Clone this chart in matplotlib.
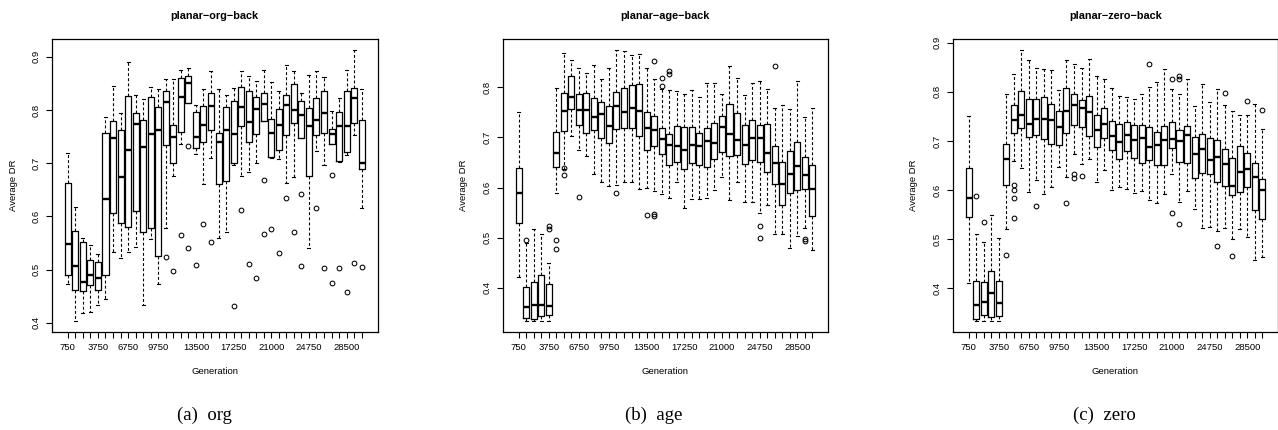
import numpy as np
import matplotlib.pyplot as plt

plt.rcParams['font.family'] = ['Liberation Sans', 'DejaVu Sans']

# generations (one box per 750 generations) and the labelled ones
gens = list(range(750, 30001, 750))
shown = [750, 3750, 6750, 9750, 13500, 17250, 21000, 24750, 28500]

# planar-org-back
org_lo = [0.473, 0.404, 0.419, 0.420, 0.434, 0.444, 0.5325, 0.521, 0.5325, 0.543,
          0.434, 0.5575, 0.473, 0.579, 0.676, 0.736, 0.8125, 0.717, 0.661, 0.709,
          0.559, 0.570, 0.696, 0.675, 0.6825, 0.700, 0.779, 0.710, 0.7075, 0.662,
          0.674, 0.747, 0.541, 0.723, 0.6975, 0.736, 0.703, 0.716, 0.7525, 0.616]
org_q1 = [0.490, 0.4625, 0.460, 0.471, 0.4625, 0.489, 0.606, 0.5875, 0.581, 0.611,
          0.571, 0.579, 0.525, 0.734, 0.700, 0.759, 0.8125, 0.728, 0.740, 0.7625,
          0.660, 0.667, 0.700, 0.770, 0.740, 0.754, 0.779, 0.7125, 0.724, 0.7525,
          0.775, 0.747, 0.676, 0.7525, 0.756, 0.736, 0.705, 0.721, 0.775, 0.689]
org_med = [0.548, 0.5075, 0.4775, 0.490, 0.484, 0.632, 0.747, 0.674, 0.724, 0.773,
           0.730, 0.754, 0.762, 0.815, 0.750, 0.825, 0.851, 0.749, 0.771, 0.8075,
           0.740, 0.7625, 0.754, 0.806, 0.778, 0.8025, 0.811, 0.7575, 0.7725, 0.810,
           0.800, 0.791, 0.769, 0.782, 0.794, 0.7555, 0.770, 0.770, 0.8225, 0.700]
org_q3 = [0.662, 0.573, 0.551, 0.518, 0.514, 0.7575, 0.779, 0.762, 0.826, 0.794,
          0.781, 0.825, 0.806, 0.836, 0.771, 0.860, 0.864, 0.796, 0.8075, 0.831,
          0.7575, 0.806, 0.816, 0.844, 0.835, 0.824, 0.831, 0.7825, 0.8025, 0.829,
          0.849, 0.816, 0.803, 0.823, 0.835, 0.765, 0.796, 0.835, 0.841, 0.781]
org_hi = [0.720, 0.617, 0.559, 0.546, 0.529, 0.7875, 0.845, 0.795, 0.891, 0.8275,
          0.820, 0.844, 0.839, 0.859, 0.8575, 0.875, 0.879, 0.809, 0.839, 0.8725,
          0.839, 0.829, 0.841, 0.8725, 0.864, 0.855, 0.875, 0.8525, 0.835, 0.885,
          0.874, 0.831, 0.865, 0.874, 0.8625, 0.799, 0.8225, 0.875, 0.9125, 0.840]
org_out_box = [14, 15, 16, 17, 17, 18, 19, 20, 23, 24, 25, 26, 27, 27, 28, 29, 30,
               31, 32, 32, 34, 35, 36, 36, 37, 38, 39, 40]
org_out_val = [0.524, 0.497, 0.565, 0.7325, 0.541, 0.509, 0.586, 0.551, 0.431, 0.6125,
               0.511, 0.485, 0.668, 0.566, 0.577, 0.532, 0.634, 0.571, 0.643, 0.5075,
               0.616, 0.503, 0.6775, 0.475, 0.5025, 0.458, 0.5125, 0.5055]

# planar-age-back
age_lo = [0.422, 0.3347, 0.3347, 0.3347, 0.3347, 0.590, 0.6367, 0.7033, 0.6753, 0.6633,
          0.628, 0.6113, 0.6033, 0.6053, 0.6113, 0.6113, 0.598, 0.600, 0.5933, 0.5867,
          0.5787, 0.6113, 0.5587, 0.5767, 0.5767, 0.5787, 0.5947, 0.622, 0.5753, 0.6113,
          0.5713, 0.572, 0.550, 0.5647, 0.508, 0.508, 0.4787, 0.5033, 0.520, 0.4747]
age_q1 = [0.530, 0.340, 0.3387, 0.3433, 0.346, 0.642, 0.7133, 0.7567, 0.7247, 0.708,
          0.7147, 0.6987, 0.6887, 0.7167, 0.7193, 0.718, 0.702, 0.6747, 0.6833, 0.6667,
          0.6453, 0.6513, 0.638, 0.6487, 0.6447, 0.6407, 0.6567, 0.6713, 0.6633, 0.6647,
          0.6467, 0.6547, 0.650, 0.632, 0.608, 0.5647, 0.5887, 0.5947, 0.598, 0.5433]
age_med = [0.5887, 0.3613, 0.3667, 0.3653, 0.3647, 0.6687, 0.7527, 0.7813, 0.7553, 0.7547,
           0.7413, 0.7467, 0.7233, 0.7633, 0.750, 0.758, 0.7533, 0.7193, 0.7147, 0.6967,
           0.6853, 0.6833, 0.6753, 0.6853, 0.682, 0.692, 0.688, 0.720, 0.7067, 0.6947,
           0.6853, 0.6987, 0.6987, 0.6693, 0.6493, 0.6067, 0.6267, 0.6433, 0.626, 0.5967]
age_q3 = [0.640, 0.4013, 0.412, 0.4267, 0.408, 0.7113, 0.788, 0.822, 0.786, 0.7887,
          0.778, 0.7713, 0.762, 0.790, 0.7987, 0.8047, 0.806, 0.750, 0.7433, 0.718,
          0.706, 0.722, 0.7213, 0.720, 0.7087, 0.7187, 0.728, 0.742, 0.766, 0.748,
          0.7253, 0.7353, 0.7253, 0.726, 0.6827, 0.650, 0.6733, 0.690, 0.6613, 0.6447]
age_hi = [0.750, 0.490, 0.518, 0.508, 0.450, 0.798, 0.8687, 0.8547, 0.838, 0.828,
          0.8453, 0.8167, 0.838, 0.874, 0.8727, 0.8633, 0.866, 0.838, 0.816, 0.7967,
          0.7953, 0.7927, 0.7867, 0.7947, 0.780, 0.8093, 0.8087, 0.7867, 0.842, 0.8193,
          0.7853, 0.808, 0.812, 0.7967, 0.7587, 0.7653, 0.7567, 0.8133, 0.7413, 0.7587]
age_out_box = [2, 5, 5, 6, 6, 7, 7, 9, 14, 18, 19, 19, 19, 20, 20, 21, 21, 33, 33,
               35, 39, 39]
age_out_val = [0.495, 0.5233, 0.518, 0.4947, 0.4767, 0.640, 0.6247, 0.5813, 0.5887,
               0.546, 0.8533, 0.548, 0.5427, 0.818, 0.802, 0.832, 0.826, 0.5233,
               0.4987, 0.8427, 0.498, 0.494]

# planar-zero-back
zero_lo = [0.4109, 0.334, 0.334, 0.334, 0.334, 0.5197, 0.6592, 0.6456, 0.5959, 0.6204,
           0.5912, 0.6061, 0.6469, 0.6265, 0.6728, 0.6524, 0.6626, 0.6163, 0.6408, 0.600,
           0.6068, 0.6014, 0.5946, 0.598, 0.5789, 0.5741, 0.5925, 0.6333, 0.5755, 0.598,
           0.5605, 0.5231, 0.5252, 0.5163, 0.5224, 0.5007, 0.5197, 0.5041, 0.4585, 0.4639]
zero_q1 = [0.5449, 0.3381, 0.3463, 0.3408, 0.3442, 0.6095, 0.717, 0.7259, 0.7088, 0.7122,
           0.7034, 0.6932, 0.6918, 0.7156, 0.732, 0.7293, 0.7102, 0.6878, 0.7061, 0.6816,
           0.6626, 0.6789, 0.6653, 0.6551, 0.6605, 0.6503, 0.651, 0.6857, 0.6571, 0.6551,
           0.6245, 0.634, 0.632, 0.6163, 0.6082, 0.5905, 0.5959, 0.6061, 0.5592, 0.5415]
zero_med = [0.5837, 0.3667, 0.3728, 0.3898, 0.3701, 0.6639, 0.7429, 0.7537, 0.7354, 0.7456,
            0.7456, 0.7429, 0.7286, 0.7605, 0.7728, 0.7673, 0.7592, 0.7224, 0.734, 0.7109,
            0.698, 0.7116, 0.7014, 0.7061, 0.6871, 0.6925, 0.7014, 0.7034, 0.7007, 0.7116,
            0.6735, 0.6844, 0.6612, 0.668, 0.6537, 0.6082, 0.6374, 0.6422, 0.6259, 0.5993]
zero_q3 = [0.6456, 0.4156, 0.4129, 0.4361, 0.4156, 0.6946, 0.7741, 0.802, 0.7864, 0.785,
           0.7891, 0.7748, 0.7619, 0.8088, 0.7952, 0.783, 0.7918, 0.7524, 0.7667, 0.7401,
           0.7347, 0.7388, 0.7327, 0.7333, 0.7286, 0.719, 0.7306, 0.7388, 0.7218, 0.7306,
           0.7088, 0.7136, 0.7061, 0.7014, 0.683, 0.6653, 0.6898, 0.6748, 0.6558, 0.6218]
zero_hi = [0.751, 0.5109, 0.4939, 0.5497, 0.5014, 0.7966, 0.836, 0.885, 0.8653, 0.8476,
           0.8456, 0.8442, 0.8041, 0.8646, 0.8558, 0.8483, 0.8667, 0.8313, 0.8259, 0.8078,
           0.7918, 0.7905, 0.785, 0.7966, 0.8102, 0.8197, 0.8456, 0.8054, 0.7952, 0.8259,
           0.7714, 0.817, 0.7803, 0.8054, 0.7741, 0.7605, 0.7531, 0.7531, 0.7748, 0.7252]
zero_out_box = [2, 3, 6, 7, 7, 7, 7, 10, 14, 15, 15, 16, 25, 28, 28, 29, 29, 29, 34,
                35, 36, 38, 40]
zero_out_val = [0.587, 0.5354, 0.4673, 0.6095, 0.600, 0.5844, 0.5435, 0.5667, 0.5741,
                0.6333, 0.6252, 0.6286, 0.8571, 0.8252, 0.5537, 0.8327, 0.8272, 0.530,
                0.4857, 0.798, 0.4653, 0.7816, 0.7626]

panels = [
    ('planar\u2212org\u2212back', org_lo, org_q1, org_med, org_q3, org_hi, org_out_box, org_out_val, [0.4, 0.5, 0.6, 0.7, 0.8, 0.9], '(a)  org'),
    ('planar\u2212age\u2212back', age_lo, age_q1, age_med, age_q3, age_hi, age_out_box, age_out_val, [0.4, 0.5, 0.6, 0.7, 0.8], '(b)  age'),
    ('planar\u2212zero\u2212back', zero_lo, zero_q1, zero_med, zero_q3, zero_hi, zero_out_box, zero_out_val, [0.4, 0.5, 0.6, 0.7, 0.8, 0.9], '(c)  zero'),
]

W, H = 1278, 430
fig = plt.figure(figsize=(W / 100, H / 100), dpi=100)
lefts = [52, 502.7, 952.7]
caps_x = [204, 654, 1104]
top_px, bot_px, wid_px = 39.3, 331.5, 325.5

pos = np.arange(1, len(gens) + 1)
for k, (title, lo, q1, med, q3, hi, ob, ov, yt, cap) in enumerate(panels):
    ax = fig.add_axes([lefts[k] / W, (H - bot_px) / H, wid_px / W, (bot_px - top_px) / H])
    stats = []
    for i in range(len(gens)):
        fl = [v for b, v in zip(ob, ov) if b == i + 1]
        stats.append(dict(whislo=lo[i], q1=q1[i], med=med[i], q3=q3[i], whishi=hi[i], fliers=fl))
    ax.bxp(stats, positions=pos, widths=0.8, manage_ticks=False,
           boxprops=dict(color='black', lw=0.9),
           whiskerprops=dict(color='black', lw=0.8, linestyle=(0, (2.6, 2.0))),
           capprops=dict(color='black', lw=0.8),
           medianprops=dict(color='black', lw=1.7, solid_capstyle='butt'),
           flierprops=dict(marker='o', markersize=3.4, markerfacecolor='none',
                           markeredgecolor='black', markeredgewidth=0.75))
    n = len(gens)
    ax.set_xlim(0.5 - 0.04 * n, n + 0.5 + 0.04 * n)
    allv = lo + hi + ov
    ymin, ymax = min(allv), max(allv)
    pad = 0.04 * (ymax - ymin)
    ax.set_ylim(ymin - pad, ymax + pad)
    ax.set_xticks(pos)
    ax.set_xticklabels([str(g) if g in shown else '' for g in gens])
    ax.set_yticks(yt)
    ax.set_yticklabels([f'{v:.1f}' for v in yt], rotation=90, va='center')
    ax.tick_params(axis='both', length=4, width=0.8, labelsize=6.8, color='black')
    ax.tick_params(axis='x', pad=4.2)
    ax.tick_params(axis='y', pad=4.0)
    for s in ax.spines.values():
        s.set_linewidth(0.9)
    h = bot_px - top_px
    ax.text(0.5, 1 + (top_px - 16) / h, title, transform=ax.transAxes,
            ha='center', va='center', fontsize=7.8, fontweight='bold')
    ax.text(0.5, -(371.7 - bot_px) / h, 'Generation', transform=ax.transAxes,
            ha='center', va='center', fontsize=6.8)
    ax.text(-39 / wid_px, 0.5, 'Average DR', transform=ax.transAxes,
            ha='center', va='center', rotation=90, fontsize=6.8)
    fig.text(caps_x[k] / W, 1 - 415 / H, cap, ha='center', va='center',
             fontsize=13.5, family=['Liberation Serif', 'DejaVu Serif'])

fig.savefig('out.png', dpi=100)
